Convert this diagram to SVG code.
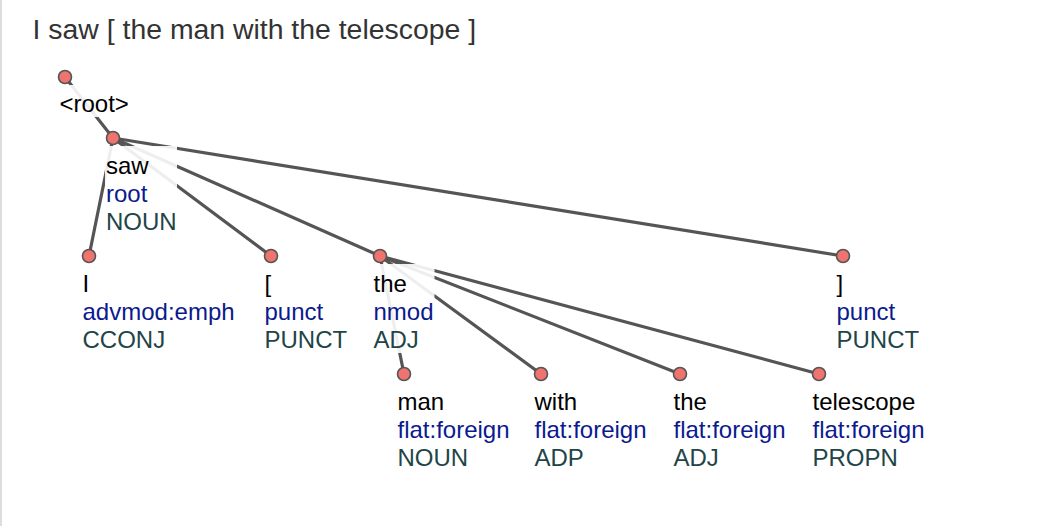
<svg xmlns="http://www.w3.org/2000/svg" width="1044" height="526" viewBox="0 0 1044 526">
<style>
  text { font-family: "Liberation Sans", Arial, sans-serif; font-size: 24px; }
  .title { font-size: 28.4px; fill: #333333; }
  .w { fill: #000000; }
  .d { fill: #0b1a8e; }
  .p { fill: #1f4548; }
  .link { stroke: #555555; stroke-width: 3.2; fill: none; stroke-linecap: round; }
  .dot { fill: #ef736e; stroke: #555555; stroke-width: 1.6; }
  .bg { fill: #ffffff; fill-opacity: 0.9; }
</style>
<rect x="0" y="0" width="1044" height="526" fill="#ffffff"/>
<rect x="0" y="0" width="2" height="526" fill="#dddddd"/>
<text class="title" x="32.6" y="39">I saw [ the man with the telescope ]</text>

<g id="links">
  <line class="link" x1="65" y1="77" x2="113" y2="138"/>
  <line class="link" x1="113" y1="138" x2="89" y2="256"/>
  <line class="link" x1="113" y1="138" x2="271" y2="256"/>
  <line class="link" x1="113" y1="138" x2="380" y2="256"/>
  <line class="link" x1="113" y1="138" x2="843" y2="256"/>
  <line class="link" x1="380" y1="256" x2="404" y2="374"/>
  <line class="link" x1="380" y1="256" x2="541" y2="374"/>
  <line class="link" x1="380" y1="256" x2="680" y2="374"/>
  <line class="link" x1="380" y1="256" x2="819" y2="374"/>
</g>

<g id="node-root">
  <rect class="bg" x="58.5" y="85" width="71" height="32"/>
  <text class="w" x="59.5" y="112">&lt;root&gt;</text>
  <circle class="dot" cx="65" cy="77" r="6.5"/>
</g>

<g id="node-saw">
  <rect class="bg" x="105" y="146" width="72" height="89"/>
  <text class="w" x="106" y="173.5">saw</text>
  <text class="d" x="106" y="201.5">root</text>
  <text class="p" x="106" y="229.5">NOUN</text>
  <circle class="dot" cx="113" cy="138" r="6.5"/>
</g>

<g id="node-I">
  <rect class="bg" x="81.5" y="264" width="154" height="89"/>
  <text class="w" x="82.5" y="291.5">I</text>
  <text class="d" x="82.5" y="319.5">advmod:emph</text>
  <text class="p" x="82.5" y="347.5">CCONJ</text>
  <circle class="dot" cx="89" cy="256" r="6.5"/>
</g>

<g id="node-lbracket">
  <rect class="bg" x="263.5" y="264" width="85" height="89"/>
  <text class="w" x="264.5" y="291.5">[</text>
  <text class="d" x="264.5" y="319.5">punct</text>
  <text class="p" x="264.5" y="347.5">PUNCT</text>
  <circle class="dot" cx="271" cy="256" r="6.5"/>
</g>

<g id="node-the1">
  <rect class="bg" x="372.5" y="264" width="62" height="89"/>
  <text class="w" x="373.5" y="291.5">the</text>
  <text class="d" x="373.5" y="319.5">nmod</text>
  <text class="p" x="373.5" y="347.5">ADJ</text>
  <circle class="dot" cx="380" cy="256" r="6.5"/>
</g>

<g id="node-rbracket">
  <rect class="bg" x="835.5" y="264" width="85" height="89"/>
  <text class="w" x="836.5" y="291.5">]</text>
  <text class="d" x="836.5" y="319.5">punct</text>
  <text class="p" x="836.5" y="347.5">PUNCT</text>
  <circle class="dot" cx="843" cy="256" r="6.5"/>
</g>

<g id="node-man">
  <rect class="bg" x="396.5" y="382" width="114" height="89"/>
  <text class="w" x="397.5" y="409.5">man</text>
  <text class="d" x="397.5" y="437.5">flat:foreign</text>
  <text class="p" x="397.5" y="465.5">NOUN</text>
  <circle class="dot" cx="404" cy="374" r="6.5"/>
</g>

<g id="node-with">
  <rect class="bg" x="533.5" y="382" width="114" height="89"/>
  <text class="w" x="534.5" y="409.5">with</text>
  <text class="d" x="534.5" y="437.5">flat:foreign</text>
  <text class="p" x="534.5" y="465.5">ADP</text>
  <circle class="dot" cx="541" cy="374" r="6.5"/>
</g>

<g id="node-the2">
  <rect class="bg" x="672.5" y="382" width="114" height="89"/>
  <text class="w" x="673.5" y="409.5">the</text>
  <text class="d" x="673.5" y="437.5">flat:foreign</text>
  <text class="p" x="673.5" y="465.5">ADJ</text>
  <circle class="dot" cx="680" cy="374" r="6.5"/>
</g>

<g id="node-telescope">
  <rect class="bg" x="811.5" y="382" width="114" height="89"/>
  <text class="w" x="812.5" y="409.5">telescope</text>
  <text class="d" x="812.5" y="437.5">flat:foreign</text>
  <text class="p" x="812.5" y="465.5">PROPN</text>
  <circle class="dot" cx="819" cy="374" r="6.5"/>
</g>
</svg>
